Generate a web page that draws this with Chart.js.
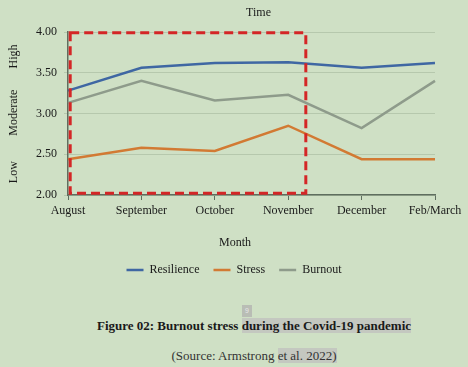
<!DOCTYPE html>
<html>
<head>
<meta charset="utf-8">
<script src="https://cdn.jsdelivr.net/npm/chart.js@4"></script>
<style>
  html, body { margin: 0; padding: 0; background: #cfe0c5; }
  body { width: 468px; height: 367px; position: relative; overflow: hidden; font-family: "Liberation Serif", serif; color: #1a1a1a; }
  #wrap { position: absolute; left: 0; top: 0; width: 468px; height: 290px; }
  .hl { background: #c4c8c0; }
  #caption { position: absolute; left: 0; width: 468px; top: 317px; text-align: center; font-size: 13px; font-weight: bold; line-height: 18px; padding-left: 40px; box-sizing: border-box; }
  #source { position: absolute; left: 0; width: 468px; top: 347px; text-align: center; font-size: 13px; line-height: 18px; color: #333; padding-left: 40px; box-sizing: border-box; }
  #pg { position: absolute; left: 242px; top: 305px; width: 10px; height: 12px; background: #b9bdb5; color: #e8e8e8; font: 7px sans-serif; text-align: center; line-height: 12px; }
</style>
</head>
<body>
<div id="wrap"><canvas id="chart"></canvas></div>
<div id="pg">9</div>
<div id="caption">Figure 02: Burnout stress <span class="hl">during the Covid-19 pandemic</span></div>
<div id="source">(Source: Armstrong <span class="hl">et al. 2022)</span></div>
<script>
// values
const months = ['August', 'September', 'October', 'November', 'December', 'Feb/March'];
const resilience = [3.28, 3.56, 3.62, 3.63, 3.56, 3.62];
const stress = [2.44, 2.58, 2.54, 2.85, 2.44, 2.44];
const burnout = [3.13, 3.40, 3.16, 3.23, 2.82, 3.40];
const levelLabels = [['High', 3.70], ['Moderate', 3.01], ['Low', 2.28]];

// dashed highlight box (Aug .. just past Nov)
const boxFrom = 0.03, boxTo = 3.24;

const ink = '#1a1a1a';
const serif = 'Liberation Serif';

const extras = {
    id: 'extras',
    afterDraw(chart) {
        const { ctx, chartArea: ca, scales: { x, y } } = chart;
        ctx.save();
        ctx.fillStyle = ink;
        ctx.font = `12px "${serif}"`;
        ctx.textAlign = 'center';
        ctx.textBaseline = 'middle';
        ctx.fillText('Time', (ca.left + ca.right) / 2 + 7, 13);
        ctx.fillText('Month', 235, 243);
        levelLabels.forEach(([txt, v]) => {
            ctx.save();
            ctx.translate(14, y.getPixelForValue(v));
            ctx.rotate(-Math.PI / 2);
            ctx.fillText(txt, 0, 0);
            ctx.restore();
        });
        // red dashed rectangle
        ctx.strokeStyle = '#d42626';
        ctx.lineWidth = 3;
        ctx.setLineDash([9, 5]);
        const l = x.getPixelForValue(boxFrom), r = x.getPixelForValue(boxTo);
        const t = y.getPixelForValue(3.99), b = y.getPixelForValue(2.02);
        ctx.strokeRect(l, t, r - l, b - t);
        ctx.restore();
    }
};

const line = (label, data, color) => ({
    label, data, borderColor: color, backgroundColor: color,
    borderWidth: 2.5, pointRadius: 0, tension: 0, fill: false,
});

new Chart(document.getElementById('chart'), {
    type: 'line',
    data: {
        labels: months,
        datasets: [
            line('Resilience', resilience, '#3f67a3'),
            line('Stress', stress, '#d27a33'),
            line('Burnout', burnout, '#8e9b8b'),
        ],
    },
    options: {
        responsive: true, maintainAspectRatio: false, animation: false,
        layout: { padding: { left: 33, right: 33, top: 32, bottom: 4 } },
        plugins: {
            legend: {
                position: 'bottom',
                labels: {
                    usePointStyle: true, pointStyle: 'line', pointStyleWidth: 17,
                    color: ink, font: { family: serif, size: 12 }, padding: 14,
                },
            },
            tooltip: { enabled: false },
        },
        scales: {
            x: {
                offset: false,
                afterFit: s => { s.height = 55; },
                grid: { drawOnChartArea: false, drawTicks: true, tickLength: 5, color: '#5f6e5f' },
                border: { color: '#5f6e5f', width: 1.5 },
                ticks: { color: ink, font: { family: serif, size: 12 }, maxRotation: 0, padding: 4 },
            },
            y: {
                min: 2, max: 4,
                afterFit: s => { s.width = 35; },
                grid: { color: '#b6c8ad', tickLength: 4, drawTicks: true },
                border: { color: '#5f6e5f', width: 1.5 },
                ticks: { stepSize: 0.5, color: ink, font: { family: serif, size: 12 }, padding: 7,
                         callback: v => v.toFixed(2) },
            },
        },
    },
    plugins: [extras],
});
</script>
</body>
</html>
